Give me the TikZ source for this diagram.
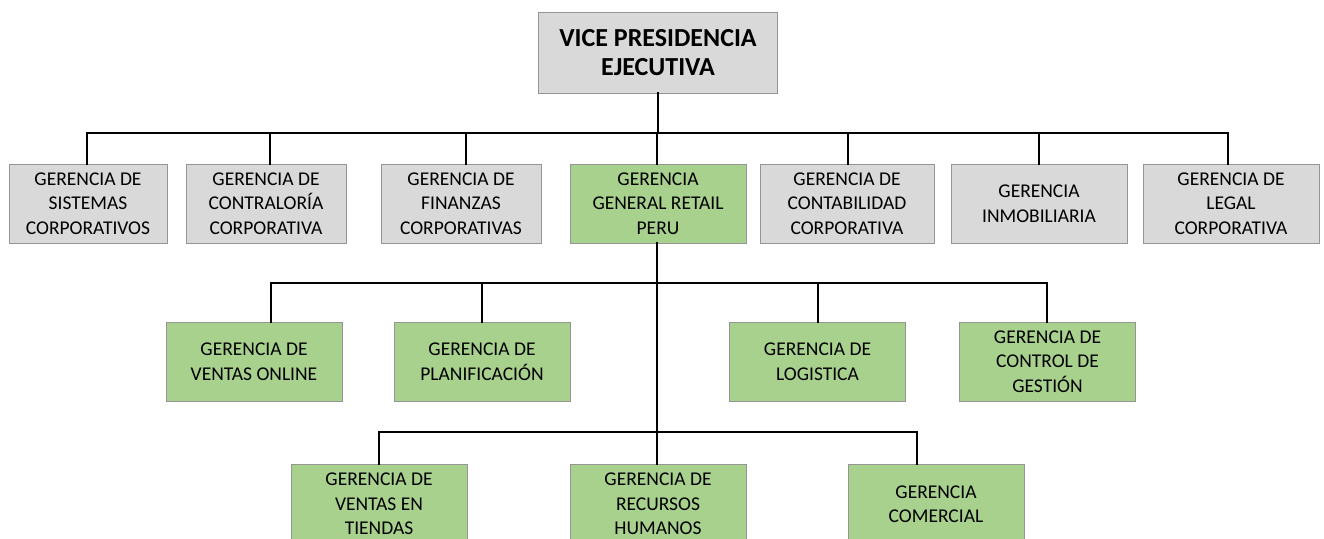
\documentclass[tikz,border=0pt]{standalone}
\usepackage{fontspec}
\setmainfont{Carlito}
\usetikzlibrary{positioning}

\definecolor{boxgray}{HTML}{D9D9D9}
\definecolor{boxgreen}{HTML}{A9D18E}
\definecolor{edgegray}{HTML}{959595}

\tikzset{
  caja/.style={draw=edgegray, line width=0.9pt, minimum height=79pt, inner sep=0pt,
    align=center, font=\fontsize{19.5}{24.5}\selectfont},
  corp/.style={caja, fill=boxgray},
  retail/.style={caja, fill=boxgreen, minimum width=176pt},
  linea/.style={line width=2pt, line cap=rect}
}

\begin{document}
\begin{tikzpicture}[x=1pt, y=-1pt]
        \useasboundingbox (0, 0) rectangle (1324, 538);
        \clip (0, 0) rectangle (1324, 538);
        \fill[white] (0, 0) rectangle (1324, 538);

        % vice presidencia
        \node[corp, minimum width=239pt, minimum height=81pt,
              font=\bfseries\fontsize{26}{29}\selectfont] (vp) at (658, 52.5) {VICE PRESIDENCIA\\EJECUTIVA};

        % primer nivel
        \node[corp, minimum width=158pt] (sis) at (88, 203.5) {GERENCIA DE\\SISTEMAS\\CORPORATIVOS};
        \node[corp, minimum width=160pt] (con) at (266, 203.5) {GERENCIA DE\\CONTRALORÍA\\CORPORATIVA};
        \node[corp, minimum width=160pt] (fin) at (461, 203.5) {GERENCIA DE\\FINANZAS\\CORPORATIVAS};
        \node[retail] (gg) at (658, 203.5) {GERENCIA\\GENERAL RETAIL\\PERU};
        \node[corp, minimum width=174pt] (cta) at (847, 203.5) {GERENCIA DE\\CONTABILIDAD\\CORPORATIVA};
        \node[corp, minimum width=176pt] (inm) at (1039, 203.5) {GERENCIA\\INMOBILIARIA};
        \node[corp, minimum width=176pt] (leg) at (1231, 203.5) {GERENCIA DE\\LEGAL\\CORPORATIVA};

        % segundo nivel
        \node[retail] (vo) at (254, 361.5) {GERENCIA DE\\VENTAS ONLINE};
        \node[retail] (pla) at (482, 361.5) {GERENCIA DE\\PLANIFICACIÓN};
        \node[retail] (log) at (817.5, 361.5) {GERENCIA DE\\LOGISTICA};
        \node[retail] (cg) at (1047.5, 361.5) {GERENCIA DE\\CONTROL DE\\GESTIÓN};

        % tercer nivel
        \node[retail] (vt) at (379, 504) {GERENCIA DE\\VENTAS EN\\TIENDAS};
        \node[retail] (rh) at (658, 504) {GERENCIA DE\\RECURSOS\\HUMANOS};
        \node[retail] (com) at (936, 504) {GERENCIA\\COMERCIAL};

        \coordinate (bus1) at (0, 133);
        \coordinate (bus2) at (0, 283);
        \coordinate (bus3) at (0, 432);

        % conectores
        \draw[linea] (vp.south) -- (vp.south |- bus1);
        \draw[linea] ([xshift=-1pt]sis.north) -- ([xshift=-1pt]sis.north |- bus1) -| ([xshift=-3pt]leg.north);
        \draw[linea] ([xshift=4pt]con.north) -- ([xshift=4pt]con.north |- bus1);
        \draw[linea] ([xshift=5pt]fin.north) -- ([xshift=5pt]fin.north |- bus1);
        \draw[linea] ([xshift=-1pt]gg.north) -- ([xshift=-1pt]gg.north |- bus1);
        \draw[linea] ([xshift=1pt]cta.north) -- ([xshift=1pt]cta.north |- bus1);
        \draw[linea] (inm.north) -- (inm.north |- bus1);

        \draw[linea] ([xshift=-1pt]gg.south) -- ([xshift=-1pt]rh.north);
        \draw[linea] ([xshift=17pt]vo.north) -- ([xshift=17pt]vo.north |- bus2) -| ([xshift=-1pt]cg.north);
        \draw[linea] (pla.north) -- (pla.north |- bus2);
        \draw[linea] (log.north) -- (log.north |- bus2);

        \draw[linea] (vt.north) -- (vt.north |- bus3) -| ([xshift=-19pt]com.north);
\end{tikzpicture}
\end{document}
